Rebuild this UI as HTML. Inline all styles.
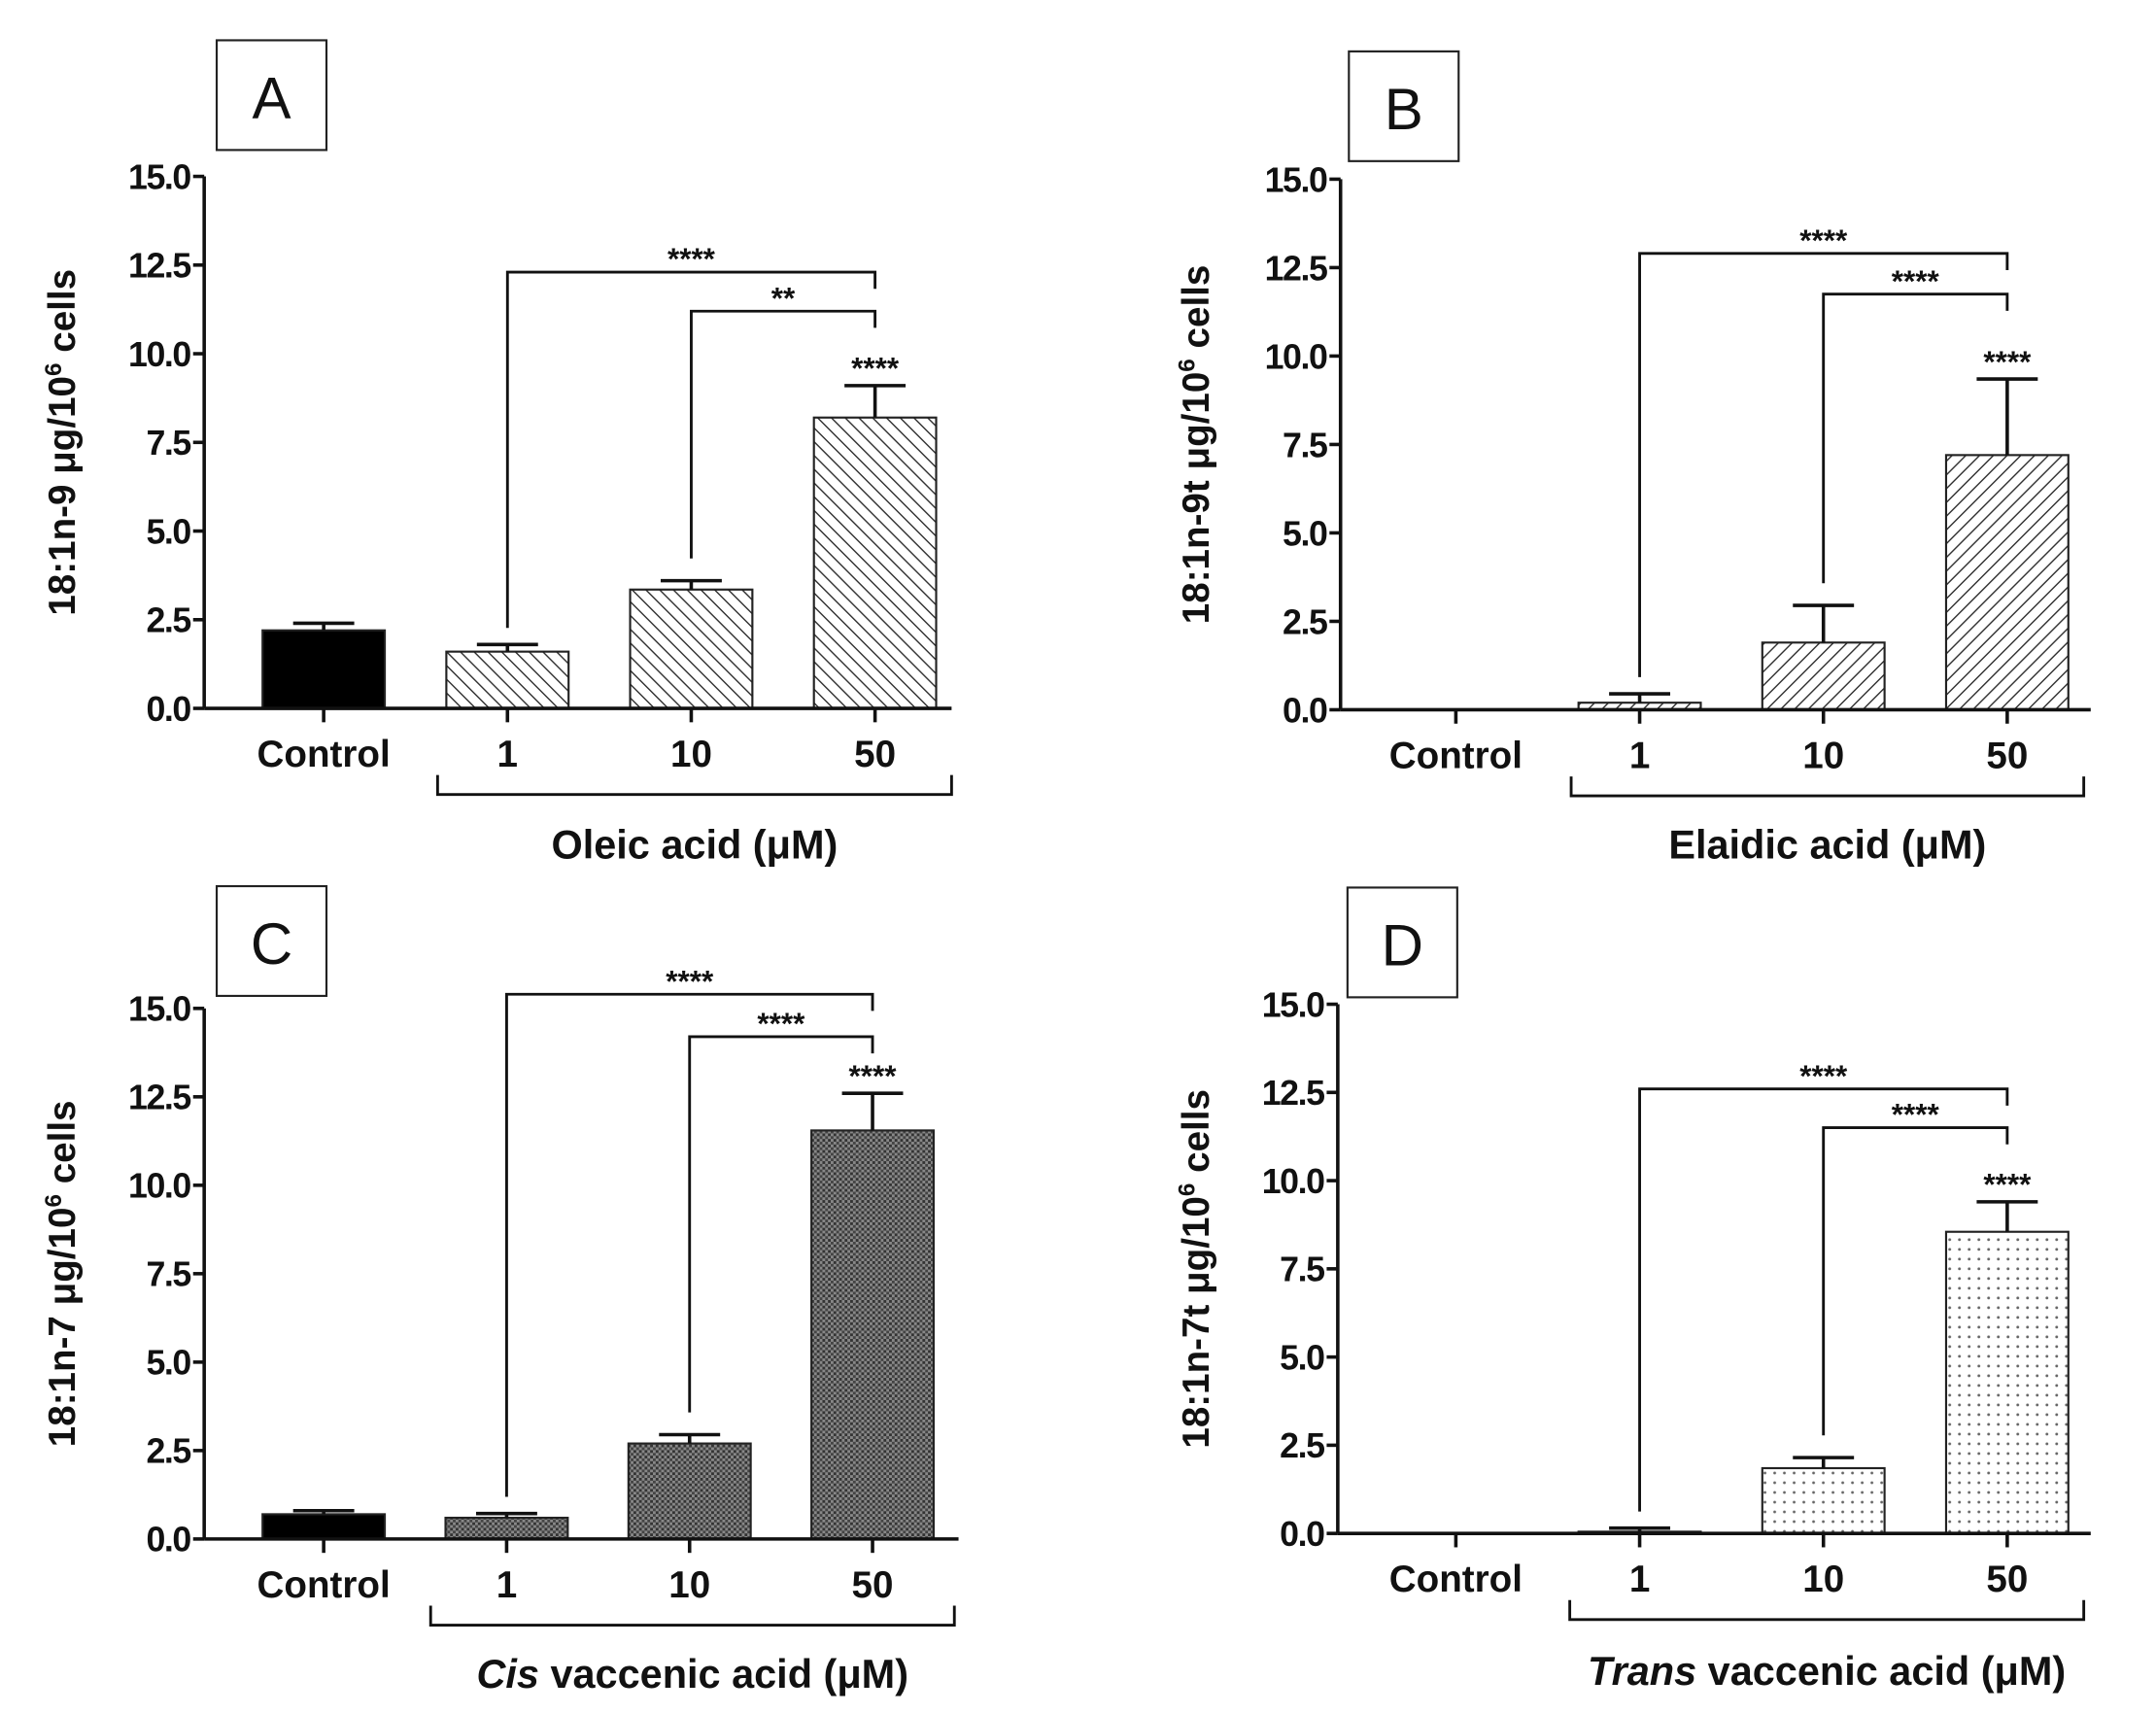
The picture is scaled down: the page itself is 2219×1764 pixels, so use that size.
<!DOCTYPE html>
<html><head><meta charset="utf-8"><style>
html,body{margin:0;padding:0;background:#fff;}
svg{display:block;}
text{font-family:"Liberation Sans",Arial,sans-serif;fill:#111;}
</style></head><body>
<svg id="fig" width="2219" height="1764" viewBox="0 0 1552 1234" preserveAspectRatio="none" xmlns="http://www.w3.org/2000/svg">
<defs>
<pattern id="hatchA" patternUnits="userSpaceOnUse" width="7" height="7" patternTransform="rotate(-45)"><rect width="7" height="7" fill="#fff"/><line x1="0" y1="0" x2="0" y2="7" stroke="#333" stroke-width="2"/></pattern>
<pattern id="hatchB" patternUnits="userSpaceOnUse" width="7" height="7" patternTransform="rotate(45)"><rect width="7" height="7" fill="#fff"/><line x1="0" y1="0" x2="0" y2="7" stroke="#333" stroke-width="2"/></pattern>
<pattern id="checkC" patternUnits="userSpaceOnUse" width="4" height="4"><rect width="4" height="4" fill="#888"/><rect width="2" height="2" fill="#333"/><rect x="2" y="2" width="2" height="2" fill="#444"/></pattern>
<pattern id="dotD" patternUnits="userSpaceOnUse" width="7" height="7"><rect width="7" height="7" fill="#fff"/><circle cx="3.5" cy="3.5" r="1" fill="#666"/></pattern>
</defs>
</svg>
<script>
// data arrays
const categories = ["Control","1","10","50"];
const yTicks = [0,2.5,5,7.5,10,12.5,15];
const yTickLabels = ["0.0","2.5","5.0","7.5","10.0","12.5","15.0"];
const valuesA = [2.2,1.6,3.35,8.2];
const errorsA = [2.4,1.8,3.6,9.1];
const valuesB = [0,0.2,1.9,7.2];
const errorsB = [0,0.45,2.95,9.35];
const valuesC = [0.7,0.6,2.7,11.55];
const errorsC = [0.8,0.72,2.95,12.6];
const valuesD = [0,0.05,1.85,8.55];
const errorsD = [0,0.15,2.15,9.4];
const panelLetters = ["A","B","C","D"];
const yLabels = ["18:1n-9","18:1n-9t","18:1n-7","18:1n-7t"];
const groupTitlesItalic = ["","","Cis","Trans"];
const groupTitlesRest = ["Oleic acid (μM)","Elaidic acid (μM)"," vaccenic acid (μM)"," vaccenic acid (μM)"];
const starsAbove = ["****","****","****","****"];
const starsBr1 = ["****","****","****","****"];
const starsBr2 = ["**","****","****","****"];

const NS="http://www.w3.org/2000/svg";
const svg=document.getElementById('fig');
function mk(tag,attrs,parent){const e=document.createElementNS(NS,tag);for(const k in attrs)e.setAttribute(k,attrs[k]);(parent||svg).appendChild(e);return e;}

const layouts=[
 {ax:147,y0:510,y15:127,xEnd:685,cx0:233,dx:132.3,box:[156,29],fill:"url(#hatchA)",ctrlFill:"#000",br1:12.3,br2:11.2,grpX:[315,685],grpY:572,titleY:608,ylX:54},
 {ax:965,y0:511,y15:129,xEnd:1505,cx0:1048,dx:132.3,box:[971,37],fill:"url(#hatchB)",ctrlFill:"#000",br1:12.9,br2:11.75,grpX:[1131,1500],grpY:573,titleY:608,ylX:870},
 {ax:147,y0:1108,y15:726,xEnd:690,cx0:233,dx:131.7,box:[156,638],fill:"url(#checkC)",ctrlFill:"#000",br1:15.4,br2:14.2,grpX:[310,687],grpY:1170,titleY:1205,ylX:54},
 {ax:963,y0:1104,y15:723,xEnd:1505,cx0:1048,dx:132.3,box:[970,639],fill:"url(#dotD)",ctrlFill:"#000",br1:12.6,br2:11.5,grpX:[1130,1500],grpY:1166,titleY:1203,ylX:870}
];
const allVals=[valuesA,valuesB,valuesC,valuesD];
const allErrs=[errorsA,errorsB,errorsC,errorsD];

layouts.forEach((L,p)=>{
 const g=mk('g',{});
 
 
 const y=v=>L.y0-(L.y0-L.y15)*v/15;
 const x=i=>L.cx0+L.dx*i;
 const bw=88;
 const bx=mk('rect',{x:L.box[0],y:L.box[1],width:79,height:79,fill:"#fff",stroke:"#222","stroke-width":1.5},g);
 
 
 const bt=mk('text',{x:L.box[0]+39.5,y:L.box[1]+56,"font-size":42,"text-anchor":"middle"},g);bt.textContent=panelLetters[p];
 
 
 const ya=mk('line',{x1:L.ax,y1:L.y15,x2:L.ax,y2:L.y0,stroke:"#111","stroke-width":2.5},g);
 
 
 yTicks.forEach((t,i)=>{
  mk('line',{x1:L.ax-8,y1:y(t),x2:L.ax,y2:y(t),stroke:"#111","stroke-width":2.5},g);
  const tl=mk('text',{x:L.ax-10,y:y(t)+9,"font-size":25,"font-weight":"bold","text-anchor":"end","letter-spacing":"-1"},g);tl.textContent=yTickLabels[i];
  
  
 });
 const yl=mk('text',{transform:`translate(${L.ylX},${(L.y0+L.y15)/2}) rotate(-90)`,"font-size":27,"font-weight":"bold","text-anchor":"middle"},g);
 yl.innerHTML=yLabels[p]+' μg/10<tspan dy="-10" font-size="17">6</tspan><tspan dy="10"> cells</tspan>';
 
 
 allVals[p].forEach((v,i)=>{
  const cx=x(i);
  if(v>0){
   const r=mk('rect',{x:cx-bw/2,y:y(v),width:bw,height:L.y0-y(v),fill:i===0?L.ctrlFill:L.fill,stroke:"#222","stroke-width":1.5},g);
   
   
  }
  const e=allErrs[p][i];
  if(e>0){
   mk('line',{x1:cx,y1:y(v),x2:cx,y2:y(e),stroke:"#111","stroke-width":2.5},g);
   const cap=mk('line',{x1:cx-22,y1:y(e),x2:cx+22,y2:y(e),stroke:"#111","stroke-width":2.5},g);
   
   
  }
  mk('line',{x1:cx,y1:L.y0,x2:cx,y2:L.y0+10,stroke:"#111","stroke-width":2.5},g);
  const cl=mk('text',{x:cx,y:L.y0+42,"font-size":27,"font-weight":"bold","text-anchor":"middle"},g);cl.textContent=categories[i];
  
  
 });
 const xa=mk('line',{x1:L.ax,y1:L.y0,x2:L.xEnd,y2:L.y0,stroke:"#111","stroke-width":2.5},g);
 
 
 const v3=allErrs[p][3];
 const b1=mk('path',{d:`M${x(1)},${y(allErrs[p][1])-12} V${y(L.br1)} H${x(3)} V${y(L.br1)+12}`,fill:"none",stroke:"#111","stroke-width":2},g);
 
 
 const b2=mk('path',{d:`M${x(2)},${y(allErrs[p][2])-16} V${y(L.br2)} H${x(3)} V${y(L.br2)+12}`,fill:"none",stroke:"#111","stroke-width":2},g);
 
 
 const s1=mk('text',{x:(x(1)+x(3))/2,y:y(L.br1)-2,"font-size":22,"font-weight":"bold","text-anchor":"middle"},g);s1.textContent=starsBr1[p];
 
 
 const s2=mk('text',{x:(x(2)+x(3))/2,y:y(L.br2)-2,"font-size":22,"font-weight":"bold","text-anchor":"middle"},g);s2.textContent=starsBr2[p];
 
 
 const s3=mk('text',{x:x(3),y:y(v3)-5,"font-size":22,"font-weight":"bold","text-anchor":"middle"},g);s3.textContent=starsAbove[p];
 
 
 const gb=mk('path',{d:`M${L.grpX[0]},${L.grpY-14} V${L.grpY} H${L.grpX[1]} V${L.grpY-14}`,fill:"none",stroke:"#111","stroke-width":2},g);
 
 
 const tt=mk('text',{x:(L.grpX[0]+L.grpX[1])/2,y:L.titleY+10,"font-size":29,"font-weight":"bold","text-anchor":"middle"},g);
 tt.innerHTML=(groupTitlesItalic[p]?'<tspan font-style="italic">'+groupTitlesItalic[p]+'</tspan>':'')+groupTitlesRest[p];
 
 
});
</script>
</body></html>
